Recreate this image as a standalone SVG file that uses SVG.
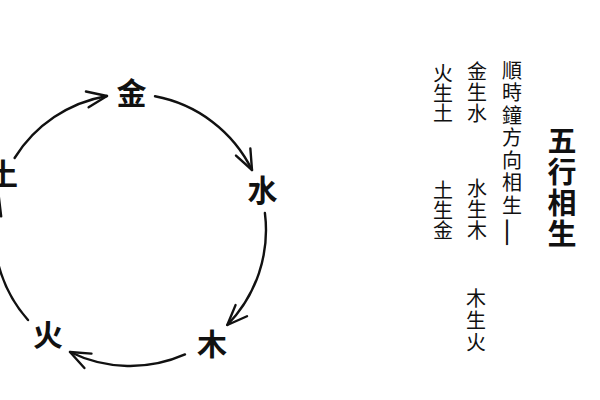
<svg xmlns="http://www.w3.org/2000/svg" width="600" height="400" viewBox="0 0 600 400">
<style>
.lbl{font-family:'Noto Sans CJK TC','Noto Sans CJK SC',sans-serif;font-size:30px;font-weight:bold;fill:#111;text-anchor:middle;dominant-baseline:central}
.v{font-family:'Noto Sans CJK TC','Noto Sans CJK SC',sans-serif;font-size:20px;fill:#111;writing-mode:vertical-rl}
.t{font-family:'Noto Sans CJK TC','Noto Sans CJK SC',sans-serif;font-size:29px;font-weight:bold;fill:#111;writing-mode:vertical-rl;letter-spacing:2px}
.arc{fill:none;stroke:#111;stroke-width:2.4;stroke-linecap:round;marker-end:url(#ah)}
</style>
<defs>
<marker id="ah" markerUnits="userSpaceOnUse" viewBox="-24 -12 28 24" refX="0" refY="0" markerWidth="28" markerHeight="24" orient="auto">
<path d="M-20,-8 L0,0 L-20,8" fill="none" stroke="#111" stroke-width="2.4" stroke-linecap="round" stroke-linejoin="round"/>
</marker>
</defs>
<rect width="600" height="400" fill="#fff"/>
<g id="connectors">
<path class="arc" d="M14.6,158 A136,136 0 0 1 107,96"/>
<path class="arc" d="M155,96.3 A136,136 0 0 1 252,170"/>
<path class="arc" d="M264.9,213 A136,136 0 0 1 227.3,325"/>
<path class="arc" d="M185,354.4 A136,136 0 0 1 70,352"/>
<path class="arc" d="M28,320 A136,136 0 0 1 -1.4,195"/>
</g>
<g id="metal"><text class="lbl" x="131.5" y="91">金</text></g>
<g id="water"><text class="lbl" x="262.5" y="188">水</text></g>
<g id="wood"><text class="lbl" x="212" y="342">木</text></g>
<g id="fire"><text class="lbl" x="48" y="333">火</text></g>
<g id="earth"><text class="lbl" x="3" y="172">土</text></g>
<g id="notes">
<text class="v" x="443" y="63">火生土</text>
<text class="v" x="443" y="180">土生金</text>
<text class="v" x="477" y="61" style="letter-spacing:1px">金生水</text>
<text class="v" x="477" y="178" style="letter-spacing:1px">水生木</text>
<text class="v" x="476" y="288" style="letter-spacing:2px">木生火</text>
<text class="v" x="512" y="60" style="letter-spacing:2.5px">順時鐘方向相生<tspan style="font-size:32px">—</tspan></text>
</g>
<g id="title"><text class="t" x="562" y="126">五行相生</text></g>
</svg>
